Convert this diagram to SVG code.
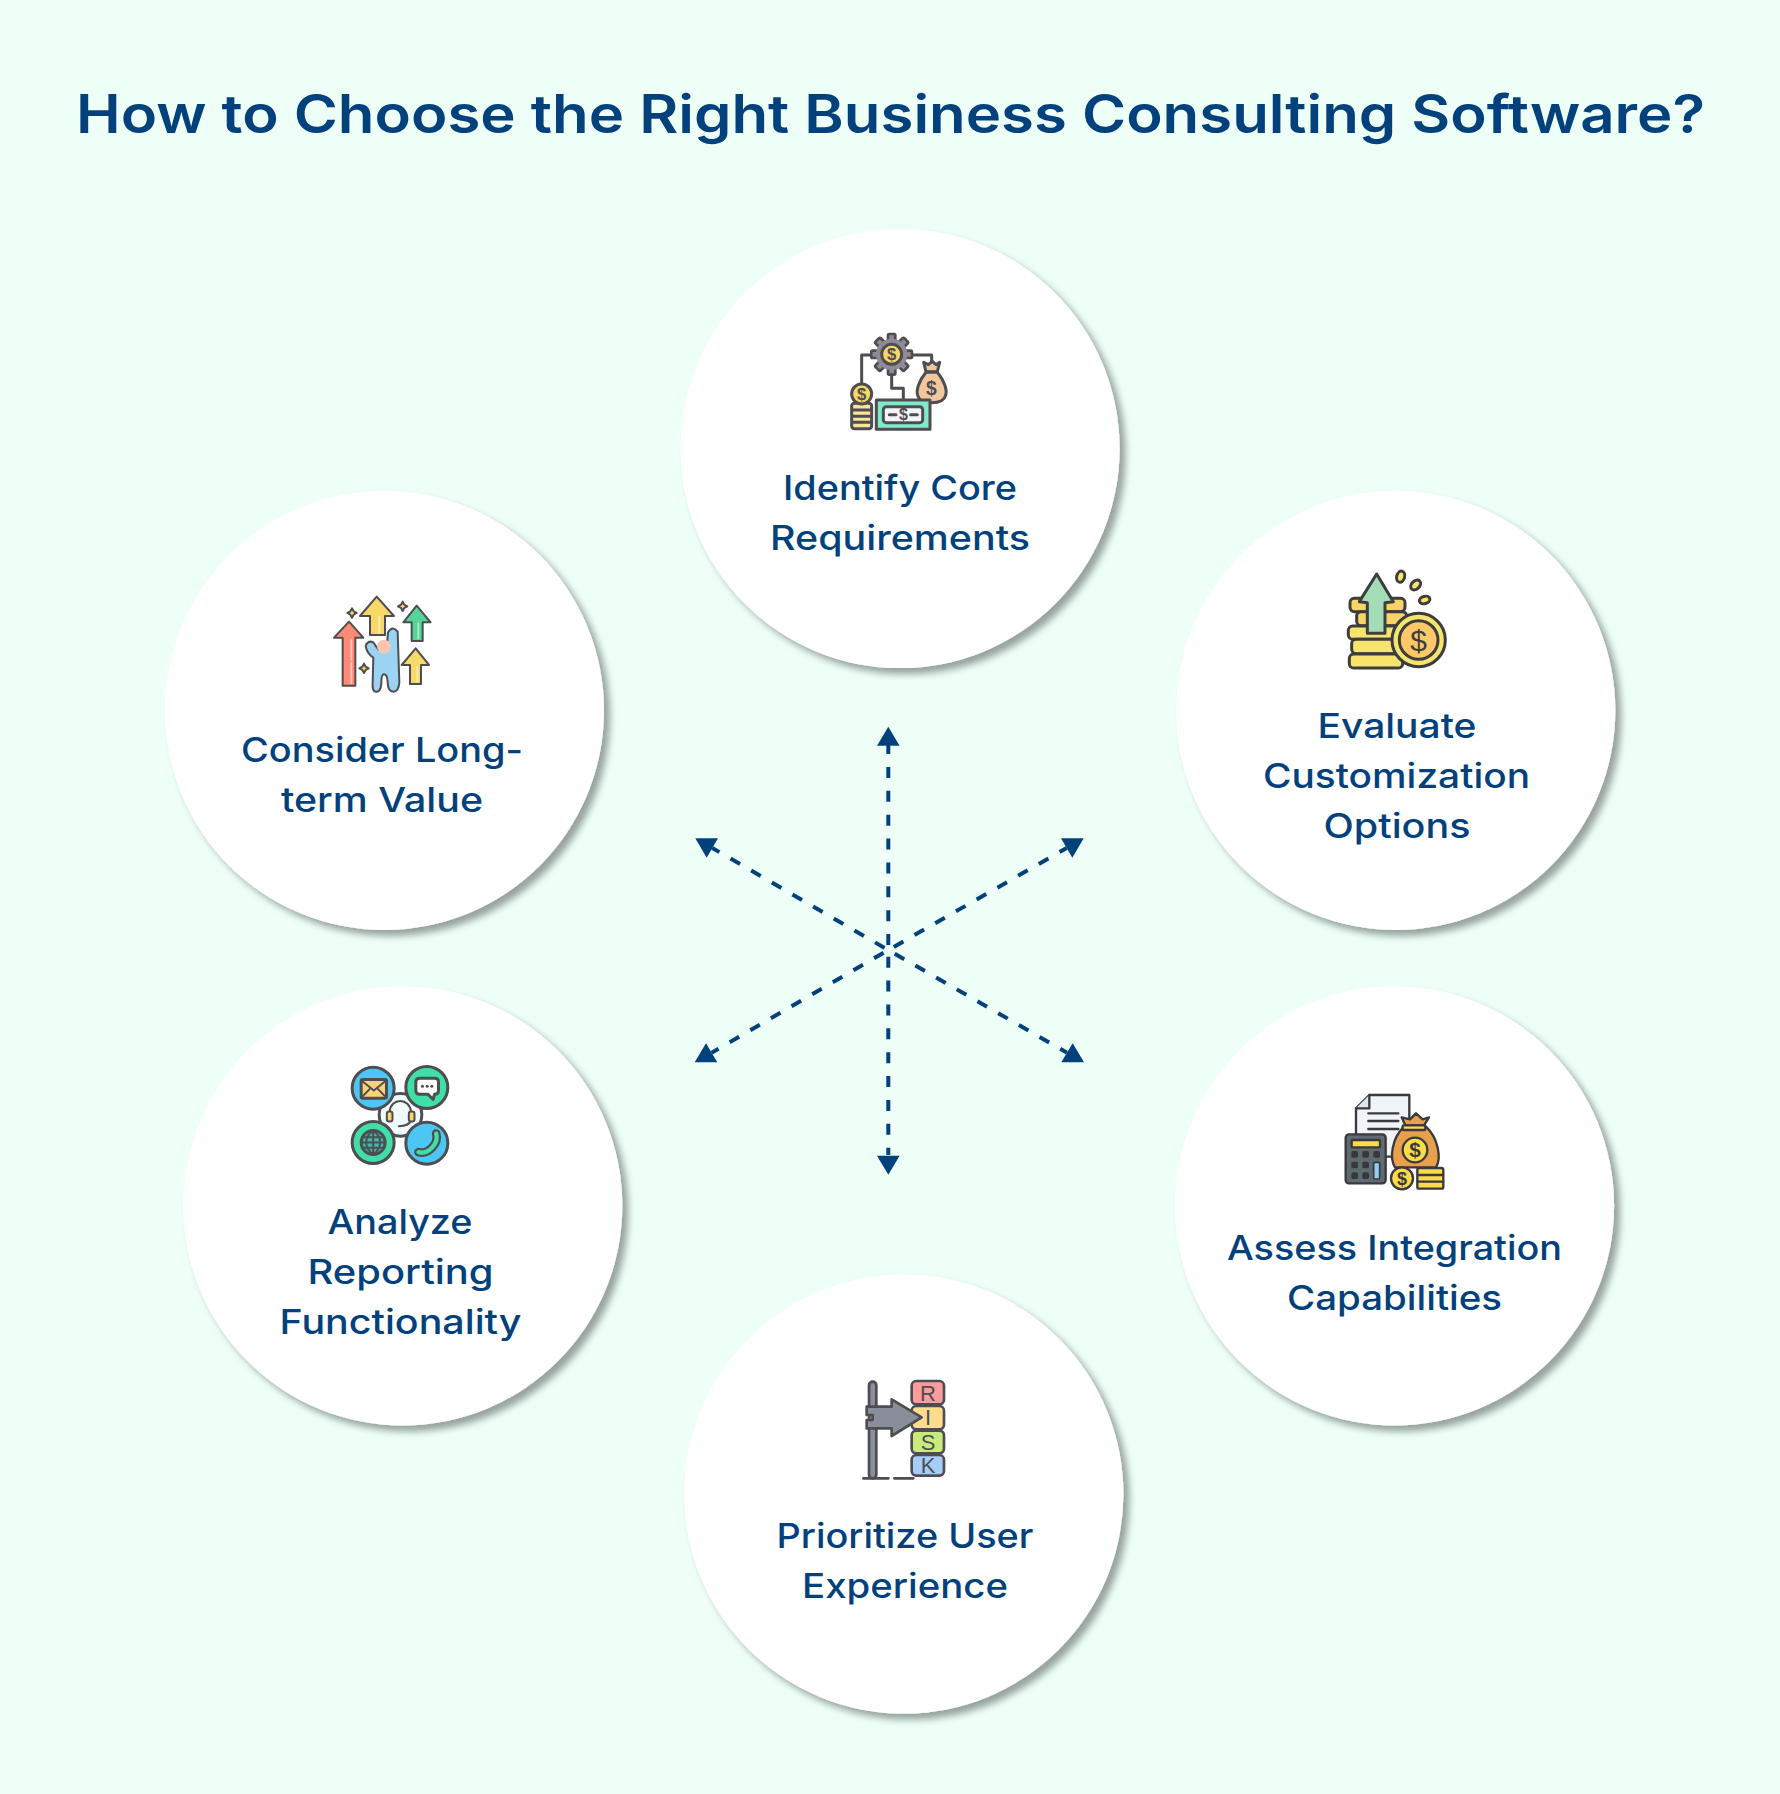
<svg xmlns="http://www.w3.org/2000/svg" width="1780" height="1794" viewBox="0 0 1780 1794">
<style>
.title{font-family:Inter,"Liberation Sans",sans-serif;font-weight:600;font-size:53px;fill:#03417c}
.lb{font-family:Inter,"Liberation Sans",sans-serif;font-weight:450;font-size:34px;fill:#03417c;text-anchor:middle}
.disc{fill:#fff;filter:url(#sh)}
.dash{fill:none;stroke:#03417c;stroke-width:4;stroke-dasharray:11 12.87}
.head{fill:#03417c}
.i{stroke:#4d4d52;stroke-width:9;stroke-linejoin:round;stroke-linecap:round}
.n{fill:none}
.d{font-family:"Liberation Sans",sans-serif;font-weight:700;fill:#4d4d52;text-anchor:middle}
.w{stroke:#fff;stroke-opacity:.55;stroke-width:5;fill:none;stroke-linecap:round;stroke-dasharray:60 8 200}
</style>
<defs>
<filter id="sh" x="-10%" y="-10%" width="125%" height="125%"><feDropShadow dx="6" dy="6" stdDeviation="3.5" flood-color="#000" flood-opacity=".36"/></filter>
</defs>
<rect width="1780" height="1794" fill="#edfff7"/>
<text class="title" x="76" y="133" textLength="1629" lengthAdjust="spacingAndGlyphs">How to Choose the Right Business Consulting Software?</text>

<g id="connectors">
<path class="dash" d="M888.3 945V745"/>
<path class="dash" d="M888.3 956.7V1155"/>
<path class="dash" d="M884.6 947.9L712.3 848"/>
<path class="dash" d="M893.8 946.9L1066.7 848"/>
<path class="dash" d="M883.6 952.7L711.7 1052.7"/>
<path class="dash" d="M894.7 953.7L1067 1052.7"/>
<polygon class="head" points="888.3,726.7 877,745.7 899.6,745.7"/>
<polygon class="head" points="888.3,1174.8 877,1155.8 899.6,1155.8"/>
<polygon class="head" points="695.3,838.3 718,838.3 706.7,857.7"/>
<polygon class="head" points="1083.7,838.3 1061,838.3 1072.3,857.7"/>
<polygon class="head" points="694.7,1062.3 717.3,1062.3 706,1043.3"/>
<polygon class="head" points="1084,1062.3 1061.3,1062.3 1072.7,1043.3"/>
</g>

<g id="node-identify">
<circle class="disc" cx="900" cy="448.5" r="219.6"/>
<g transform="translate(820 320) scale(.3333)">
<path class="i n" d="M125 195V105H165M270 105H335V130M215 160V205H250V240"/>
<g class="i" fill="#8f8a96" style="stroke-width:8">
<rect x="204" y="42" width="22" height="26" rx="4"/><rect x="204" y="138" width="22" height="26" rx="4"/>
<rect x="154" y="92" width="26" height="22" rx="4"/><rect x="250" y="92" width="26" height="22" rx="4"/>
<rect x="204" y="42" width="22" height="26" rx="4" transform="rotate(45 215 103)"/><rect x="204" y="138" width="22" height="26" rx="4" transform="rotate(45 215 103)"/>
<rect x="154" y="92" width="26" height="22" rx="4" transform="rotate(45 215 103)"/><rect x="250" y="92" width="26" height="22" rx="4" transform="rotate(45 215 103)"/>
<circle cx="215" cy="103" r="47" stroke="none"/>
</g>
<circle class="i" cx="215" cy="103" r="30" fill="#f8d866"/>
<text class="d" x="215" y="120" font-size="50">$</text>
<path class="i" d="M318 155L311 127L325 134L337 124L348 134L359 127L352 155Z" fill="#f2c79e"/>
<path class="i" d="M318 157C296 183 288 212 293 226C298 245 320 248 335 248C350 248 372 245 377 226C382 212 374 183 352 157Z" fill="#f2c79e"/>
<text class="d" x="334" y="224" font-size="58">$</text>
<rect class="i" x="95" y="250" width="60" height="76" rx="8" fill="#fbe39a"/>
<path class="i n" d="M98 270H152M98 289H152M98 307H152"/>
<circle class="i" cx="125" cy="222" r="30" fill="#f8d866"/>
<text class="d" x="125" y="239" font-size="50">$</text>
<rect class="i" x="169" y="240" width="161" height="88" fill="#7fecc8"/>
<rect class="i" x="190" y="260" width="118" height="48" rx="9" fill="#f4f4f4"/>
<path class="i n" d="M208 284H228M272 284H292"/>
<text class="d" x="250" y="301" font-size="48">$</text>
</g>
<text class="lb" x="900" y="500" textLength="234" lengthAdjust="spacingAndGlyphs">Identify Core</text>
<text class="lb" x="900" y="549.6" textLength="260" lengthAdjust="spacingAndGlyphs">Requirements</text>
</g>

<g id="node-evaluate">
<circle class="disc" cx="1395.7" cy="710.4" r="219.6"/>
<g transform="translate(1330 560) scale(.3333)">
<g class="i" style="stroke:#3d3d3d">
<rect x="60" y="115" width="165" height="40" rx="13" fill="#fad367"/>
<rect x="80" y="155" width="150" height="42" rx="13" fill="#fad367"/>
<rect x="55" y="198" width="150" height="40" rx="13" fill="#f6e46c"/>
<rect x="65" y="238" width="140" height="43" rx="13" fill="#f6e46c"/>
<rect x="58" y="282" width="160" height="42" rx="13" fill="#f6e46c"/>
<path d="M140 42L88 125L112 128V220H165V128L190 125Z" fill="#a4dcb8"/>
<circle cx="266" cy="240" r="80" fill="#f6e46c"/>
<circle cx="266" cy="240" r="58" fill="#fdc868"/>
<ellipse cx="212" cy="50" rx="12" ry="17" transform="rotate(15 212 50)" fill="#f6e46c"/>
<ellipse cx="257" cy="75" rx="12" ry="17" transform="rotate(45 257 75)" fill="#f6e46c"/>
<ellipse cx="284" cy="120" rx="16" ry="11" transform="rotate(-15 284 120)" fill="#f6e46c"/>
</g>
<text class="d" x="266" y="272" font-size="90" style="font-weight:400;fill:#3d3d3d">$</text>
</g>
<text class="lb" x="1397" y="738" textLength="159" lengthAdjust="spacingAndGlyphs">Evaluate</text>
<text class="lb" x="1396.5" y="788" textLength="267" lengthAdjust="spacingAndGlyphs">Customization</text>
<text class="lb" x="1397" y="838" textLength="147" lengthAdjust="spacingAndGlyphs">Options</text>
</g>

<g id="node-consider">
<circle class="disc" cx="384.4" cy="710.4" r="219.6"/>
<g transform="translate(320 585) scale(.3333)">
<g class="i" style="stroke-width:6">
<path d="M87 110L42 158H68V302H106V158H130Z" fill="#ff8a75"/>
<path d="M170 35L120 93H150V150H195V93H222Z" fill="#f8d868"/>
<path d="M290 62L250 112H275V168H308V112H332Z" fill="#56d596"/>
<path d="M287 190L245 240H270V297H303V240H327Z" fill="#f8d868"/>
<path d="M204 142Q218 120 233 140L238 292Q236 320 220 320Q204 320 203 292Q202 268 192 268Q184 268 184 295Q182 322 168 320Q156 320 158 292L160 218Q140 205 137 182Q145 165 160 172Q168 185 176 195L200 190Z" fill="#9bd3f2"/>
<circle cx="192" cy="185" r="21" fill="#fbc5b0" stroke="none"/>
<path d="M96 70L101 79L110 84L101 89L96 98L91 89L82 84L91 79Z" fill="#f8d868"/>
<path d="M248 50L253 59L262 64L253 69L248 78L243 69L234 64L243 59Z" fill="#f8d868"/>
<path d="M132 236L137 245L146 250L137 255L132 264L127 255L118 250L127 245Z" fill="#f8d868"/>
</g>
<path class="w" d="M94 165V295M178 95V145M295 115V160M292 245V290"/>
</g>
<text class="lb" x="382" y="762" textLength="282" lengthAdjust="spacingAndGlyphs">Consider Long-</text>
<text class="lb" x="382" y="812" textLength="202" lengthAdjust="spacingAndGlyphs">term Value</text>
</g>

<g id="node-analyze">
<circle class="disc" cx="402.7" cy="1205.8" r="219.6"/>
<g transform="translate(340.5 1055.5) scale(.3333)">
<circle class="i" cx="180" cy="178" r="64" fill="#f0fafa"/>
<path class="i n" style="stroke-width:6" d="M147 170C150 125 208 125 212 170V195C205 210 190 212 175 212"/>
<rect class="i" style="stroke-width:6" x="139" y="168" width="17" height="30" rx="7" fill="#f8d868"/>
<rect class="i" style="stroke-width:6" x="205" y="168" width="17" height="30" rx="7" fill="#f8d868"/>
<circle class="i" cx="98" cy="98" r="63" fill="#4cc6f2"/>
<circle class="i" cx="259" cy="96" r="63" fill="#3fdfa6"/>
<circle class="i" cx="98" cy="261" r="63" fill="#3fdfa6"/>
<circle class="i" cx="259" cy="263" r="63" fill="#4cc6f2"/>
<rect class="i" x="62" y="72" width="76" height="56" rx="5" fill="#fbd27a"/>
<path class="i n" style="stroke-width:6" d="M64 76L100 105L136 76M64 125L88 100M136 125L112 100"/>
<path class="i" d="M238 68H282Q294 68 294 80V104Q294 116 282 116L278 132L262 116H238Q226 116 226 104V80Q226 68 238 68Z" fill="#fff"/>
<g fill="#4d4d52"><circle cx="246" cy="92" r="4.5"/><circle cx="260" cy="92" r="4.5"/><circle cx="274" cy="92" r="4.5"/></g>
<circle class="i" cx="98" cy="261" r="36" fill="#3fb8a8"/>
<path class="i n" style="stroke-width:6" d="M98 225V297M66 245H130M66 277H130M62 261H134M98 225C70 246 70 276 98 297M98 225C126 246 126 276 98 297"/>
<path d="M287 234C296 264 264 298 234 290" fill="none" stroke="#4d4d52" stroke-width="26" stroke-linecap="round"/>
<path d="M287 234C296 264 264 298 234 290" fill="none" stroke="#3fdfa6" stroke-width="13" stroke-linecap="round"/>
</g>
<text class="lb" x="400" y="1233.5" textLength="145" lengthAdjust="spacingAndGlyphs">Analyze</text>
<text class="lb" x="400.5" y="1283.5" textLength="186" lengthAdjust="spacingAndGlyphs">Reporting</text>
<text class="lb" x="400.5" y="1333.5" textLength="242" lengthAdjust="spacingAndGlyphs">Functionality</text>
</g>

<g id="node-assess">
<circle class="disc" cx="1394.5" cy="1205.8" r="219.6"/>
<g transform="translate(1330 1080) scale(.3333)">
<g class="i" style="stroke:#3a3a3e;stroke-width:7">
<path d="M118 45H238V230H78V85Z" fill="#eff4f9"/>
<path d="M118 45V85H78" fill="#dfe6ee"/>
<path d="M115 100H205M115 123H205M115 147H205" fill="none"/>
<rect x="47" y="163" width="120" height="147" rx="10" fill="#5f6b6e"/>
<rect x="65" y="180" width="85" height="22" rx="2" fill="#fadb4a"/>
<path d="M222 140C185 175 178 235 195 262H318C335 235 325 175 288 140Z" fill="#e8a04c"/>
<path d="M215 112L240 118L258 100L278 118L297 112L282 136H226Z" fill="#e8a04c"/>
<rect x="218" y="136" width="68" height="14" rx="3" fill="#fadb4a"/>
<circle cx="255" cy="210" r="37" fill="#fadb4a"/>
<circle cx="216" cy="295" r="33" fill="#fadb4a"/>
<rect x="262" y="264" width="78" height="62" rx="6" fill="#fadb4a"/>
<path d="M264 285H338M264 305H338" fill="none"/>
</g>
<g fill="#35383c">
<rect x="64" y="213" width="20" height="20" rx="5"/><rect x="97" y="213" width="20" height="20" rx="5"/><rect x="130" y="213" width="20" height="20" rx="5"/>
<rect x="64" y="245" width="20" height="20" rx="5"/><rect x="97" y="245" width="20" height="20" rx="5"/>
<rect x="64" y="277" width="20" height="20" rx="5"/><rect x="97" y="277" width="20" height="20" rx="5"/>
</g>
<rect x="131" y="247" width="18" height="50" rx="4" fill="#8fd0f0" stroke="#35383c" stroke-width="5"/>
<text class="d" x="255" y="232" font-size="62" style="fill:#3a3a3e">$</text>
<text class="d" x="216" y="314" font-size="54" style="fill:#3a3a3e">$</text>
</g>
<text class="lb" x="1394.5" y="1260" textLength="335" lengthAdjust="spacingAndGlyphs">Assess Integration</text>
<text class="lb" x="1394.5" y="1310" textLength="215" lengthAdjust="spacingAndGlyphs">Capabilities</text>
</g>

<g id="node-prioritize">
<circle class="disc" cx="903.8" cy="1494" r="219.6"/>
<g transform="translate(850 1370) scale(.3333)">
<g class="i" style="stroke-width:8">
<rect x="57" y="35" width="22" height="290" rx="11" fill="#8a8d9a"/>
<path d="M40 325H115M133 325H190" fill="none"/>
<rect x="185" y="33" width="97" height="70" rx="14" fill="#ff9c9c"/>
<rect x="185" y="108" width="97" height="70" rx="14" fill="#ffdc8c"/>
<rect x="185" y="182" width="97" height="68" rx="14" fill="#c8ec7c"/>
<rect x="185" y="255" width="97" height="62" rx="14" fill="#a6ccf8"/>
<path d="M50 110H125V88L215 142L125 198V175H50V150H68V135H50Z" fill="#8a8d9a"/>
</g>
<g font-family="Liberation Sans,sans-serif" font-size="66" fill="#4d4d52" text-anchor="middle">
<text x="234" y="92">R</text><text x="234" y="166">I</text><text x="234" y="239">S</text><text x="234" y="310">K</text>
</g>
</g>
<text class="lb" x="905" y="1548" textLength="257" lengthAdjust="spacingAndGlyphs">Prioritize User</text>
<text class="lb" x="905" y="1598" textLength="206" lengthAdjust="spacingAndGlyphs">Experience</text>
</g>
</svg>
